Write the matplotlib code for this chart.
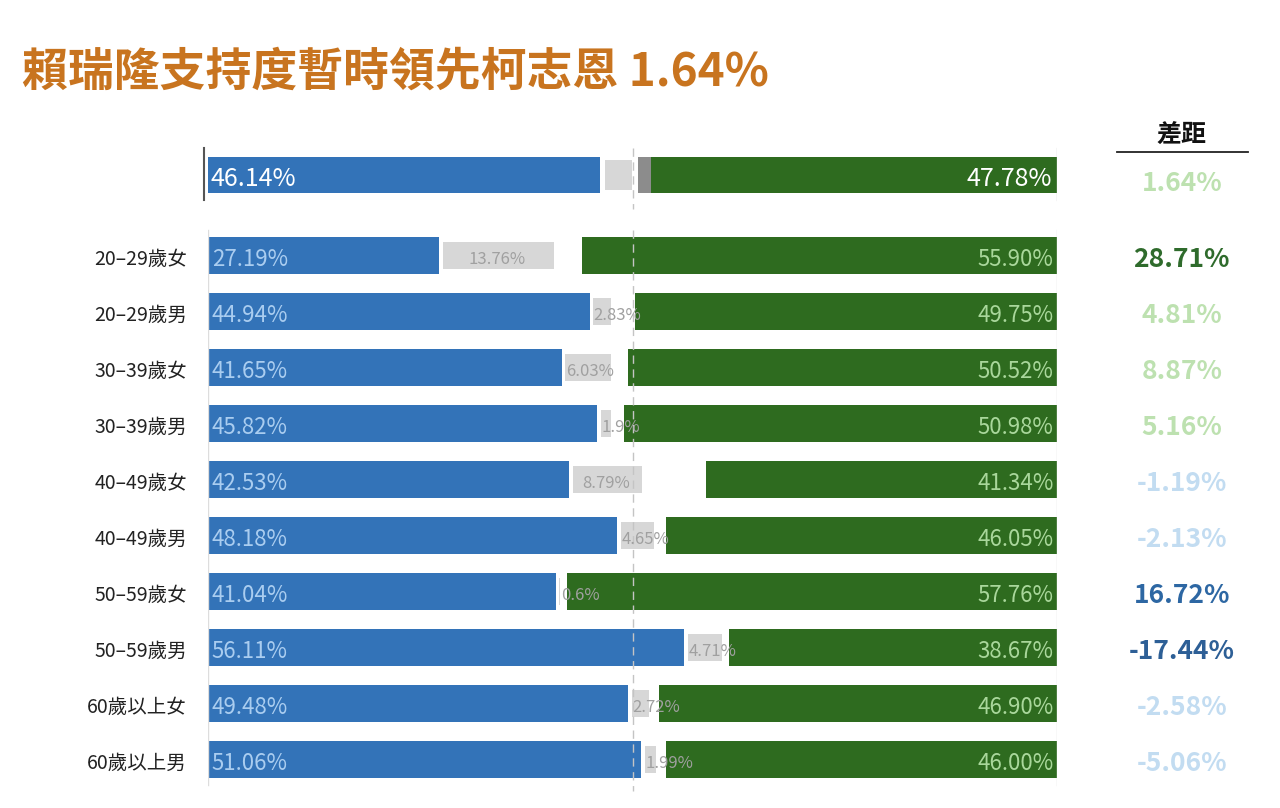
import matplotlib
matplotlib.use('Agg')
import matplotlib.pyplot as plt

plt.rcParams['font.family'] = ['Noto Sans CJK TC', 'DejaVu Sans']

# 資料
groups = ['20–29歲女', '20–29歲男', '30–39歲女', '30–39歲男', '40–49歲女',
          '40–49歲男', '50–59歲女', '50–59歲男', '60歲以上女', '60歲以上男']
lai = [27.19, 44.94, 41.65, 45.82, 42.53, 48.18, 41.04, 56.11, 49.48, 51.06]
undecided = [13.76, 2.83, 6.03, 1.9, 8.79, 4.65, 0.6, 4.71, 2.72, 1.99]
ko = [55.90, 49.75, 50.52, 50.98, 41.34, 46.05, 57.76, 38.67, 46.90, 46.00]
gap_labels = ['28.71%', '4.81%', '8.87%', '5.16%', '-1.19%', '-2.13%',
              '16.72%', '-17.44%', '-2.58%', '-5.06%']
gap_colors = ['#2f6b2c', '#bde1b0', '#bde1b0', '#bde1b0', '#c2dcf1', '#c2dcf1',
              '#2d67a3', '#2d5f96', '#c2dcf1', '#c2dcf1']

total_lai = 46.14
total_ko = 47.78
total_undecided = 3.8   # 估計
total_other = 1.6       # 估計
total_gap = '1.64%'

blue = '#3373b8'
green = '#2e6b1f'
grey = '#d7d7d7'
dy = 0.08  # 文字垂直微調

fig = plt.figure(figsize=(12.8, 8.08), dpi=100)
ax = fig.add_axes([208 / 1280, 1 - 800 / 808, 849 / 1280, 660 / 808])
ax.set_xlim(0, 100)
ax.set_ylim(11.16, -0.625)
ax.axis('off')

fig.text(22 / 1280, 1 - 73 / 808, '賴瑞隆支持度暫時領先柯志恩 1.64%', fontsize=33,
         fontweight='bold', color='#c8741f', va='center', ha='left')

# 總計列
ax.plot([-0.45, -0.45], [-0.48, 0.45], color='#555555', lw=1.5, clip_on=False)
ax.plot([100, 100], [-0.48, 0.45], color='#cccccc', lw=1)
ax.plot([50, 50], [-0.48, 0.6], color='#c4c4c4', lw=1, ls=(0, (6, 4)))
ax.barh(0, total_lai, height=0.64, color=blue)
ax.barh(0, total_undecided - 0.6, left=total_lai + 0.6, height=0.54, color=grey)
ax.barh(0, total_other, left=100 - total_ko - total_other, height=0.64, color='#8c8c8c')
ax.barh(0, total_ko, left=100 - total_ko, height=0.64, color=green)
ax.text(0.3, dy, f'{total_lai:.2f}%', color='white', fontsize=18, va='center', ha='left')
ax.text(99.4, dy, f'{total_ko:.2f}%', color='white', fontsize=18, va='center', ha='right')

# 分組
ypos = [1.43 + i for i in range(len(groups))]
y0, y1 = ypos[0] - 0.45, ypos[-1] + 0.47
ax.plot([0, 0], [y0, y1], color='#dddddd', lw=1)
ax.plot([100, 100], [y0, y1], color='#dddddd', lw=1)
ax.plot([50, 50], [y0, y1 + 0.1], color='#c4c4c4', lw=1, ls=(0, (6, 4)))

ax.barh(ypos, lai, height=0.66, color=blue)
ax.barh(ypos, [u - 0.7 for u in undecided], left=[l + 0.45 for l in lai],
        height=0.48, color=grey)
ax.barh(ypos, ko, left=[100 - k for k in ko], height=0.66, color=green)

for y, g, l, u, k in zip(ypos, groups, lai, undecided, ko):
    ax.text(-2.5, y + dy, g, fontsize=14, color='#222222', va='center', ha='right')
    ax.text(0.45, y + dy, f'{l:.2f}%', fontsize=16, color='#aacdf0', va='center',
            ha='left', fontweight='light')
    ax.text(99.6, y + dy, f'{k:.2f}%', fontsize=16, color='#a9d79b', va='center',
            ha='right', fontweight='light')
    if u > 7:
        ax.text(l + u / 2, y + dy, f'{u:g}%', fontsize=12, color='#a0a0a0',
                va='center', ha='center', fontweight='light')
    else:
        ax.text(l + 0.5, y + dy, f'{u:g}%', fontsize=12, color='#a0a0a0',
                va='center', ha='left', fontweight='light')

# 差距欄
gx = 114.7
ax.text(gx, -0.8 + dy, '差距', fontsize=18, fontweight='bold', color='#111111',
        ha='center', va='center', clip_on=False)
ax.plot([107.1, 122.5], [-0.41, -0.41], color='#222222', lw=1.3, clip_on=False)
ax.text(gx, 0.07 + dy, total_gap, fontsize=19, fontweight='bold', color='#bde1b0',
        ha='center', va='center', clip_on=False)
for y, t, c in zip(ypos, gap_labels, gap_colors):
    ax.text(gx, y + dy, t, fontsize=19, fontweight='bold', color=c,
            ha='center', va='center', clip_on=False)

fig.savefig('out.png', dpi=100, facecolor='white')
